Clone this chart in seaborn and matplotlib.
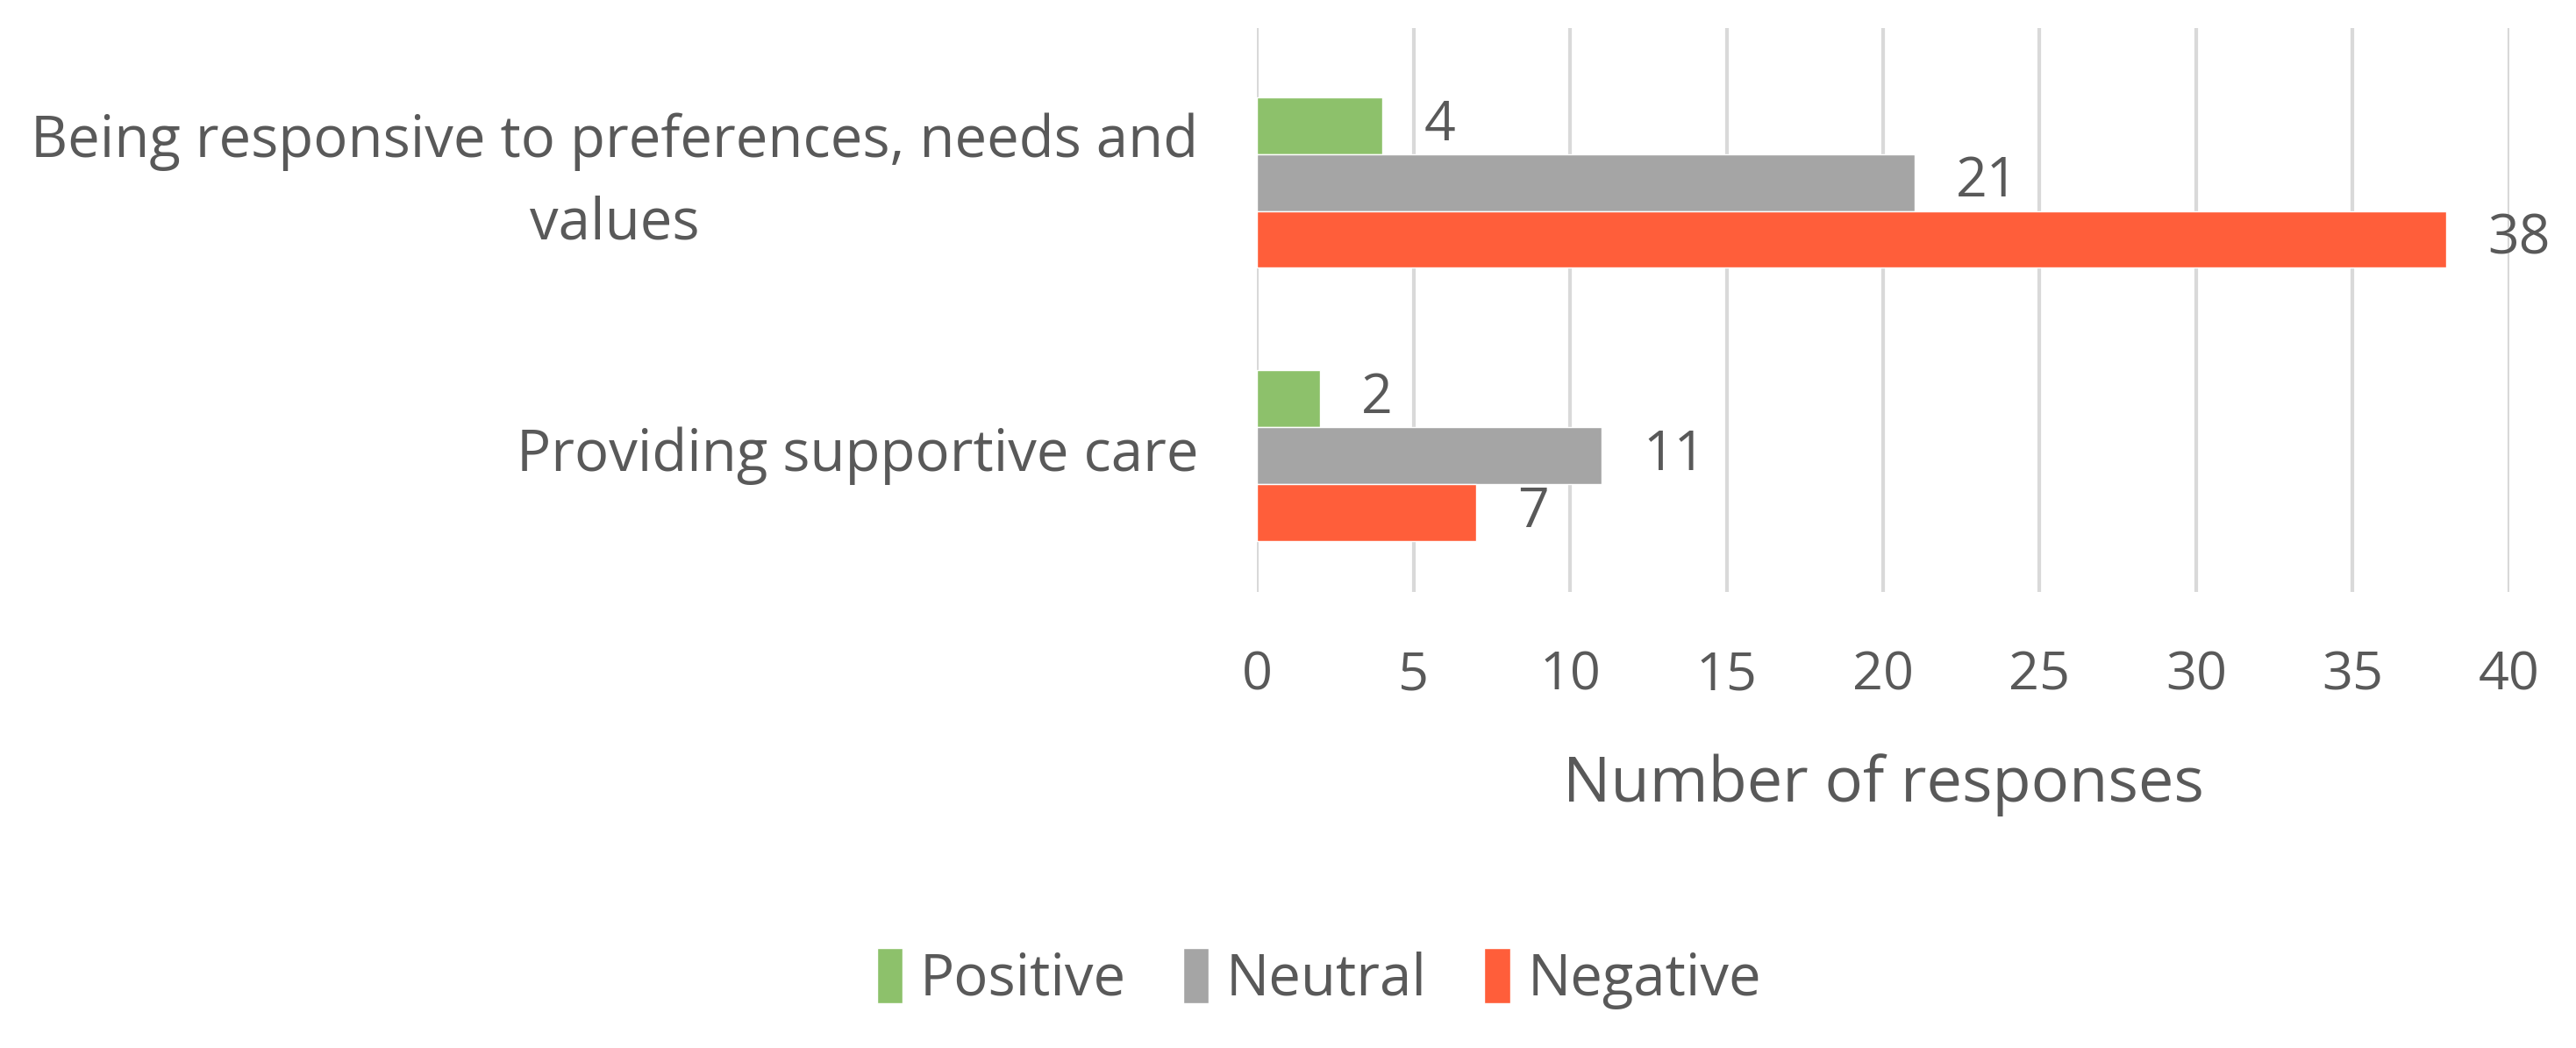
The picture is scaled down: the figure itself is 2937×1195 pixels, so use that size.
#!/usr/bin/env python3
"""Grouped horizontal bar chart: responses by theme and sentiment."""

import matplotlib

matplotlib.use("Agg")

import matplotlib.pyplot as plt
import pandas as pd
import seaborn as sns


THEMES = [
    "Being responsive to preferences, needs and\nvalues",
    "Providing supportive care",
]
SENTIMENTS = ["Positive", "Neutral", "Negative"]
POSITIVE = [4, 2]
NEUTRAL = [21, 11]
NEGATIVE = [38, 7]
X_TICKS = [0, 5, 10, 15, 20, 25, 30, 35, 40]

COLORS = {"Positive": "#8DC16B", "Neutral": "#A5A5A5", "Negative": "#FF5E3A"}
TEXT = "#595959"


def main() -> None:
    sns.set_theme(style="white")
    plt.rcParams["font.family"] = ["Open Sans", "DejaVu Sans"]

    data = pd.DataFrame(
        {
            "theme": THEMES * 3,
            "sentiment": [s for s in SENTIMENTS for _ in THEMES],
            "count": POSITIVE + NEUTRAL + NEGATIVE,
        }
    )

    fig = plt.figure(figsize=(29.37, 11.95), dpi=100)
    ax = fig.add_axes([0.488, 0.435, 0.486, 0.538])

    sns.barplot(
        data=data,
        x="count",
        y="theme",
        hue="sentiment",
        hue_order=SENTIMENTS,
        order=THEMES,
        palette=COLORS,
        orient="h",
        width=0.625,
        saturation=1,
        errorbar=None,
        ax=ax,
        zorder=3,
    )

    for container in ax.containers:
        ax.bar_label(container, padding=34, fontsize=45, color=TEXT)

    ax.set_xlim(0, 40)
    ax.set_ylim(1.5, -0.565)
    ax.set_xticks(X_TICKS)
    ax.grid(axis="x", color="#D9D9D9", linewidth=3, zorder=0)
    ax.grid(axis="y", visible=False)
    for spine in ax.spines.values():
        spine.set_visible(False)

    ax.tick_params(axis="x", length=0, pad=47, labelsize=44, labelcolor=TEXT)
    ax.tick_params(axis="y", length=0, pad=48, labelsize=47, labelcolor=TEXT)
    for label in ax.get_yticklabels():
        label.set_multialignment("center")
        label.set_verticalalignment("center")
        label.set_linespacing(1.55)

    ax.set_xlabel("Number of responses", fontsize=52, color=TEXT, labelpad=42)
    ax.set_ylabel("")

    handles, labels = ax.get_legend_handles_labels()
    ax.legend_.remove()
    fig.legend(
        handles,
        labels,
        loc="center",
        bbox_to_anchor=(0.512, 0.066),
        ncol=3,
        frameon=False,
        fontsize=47,
        labelcolor=TEXT,
        handlelength=0.45,
        handleheight=1.1,
        handletextpad=0.3,
        columnspacing=1.0,
    )

    fig.savefig("out.png", dpi=100)
    plt.close(fig)


if __name__ == "__main__":
    main()
